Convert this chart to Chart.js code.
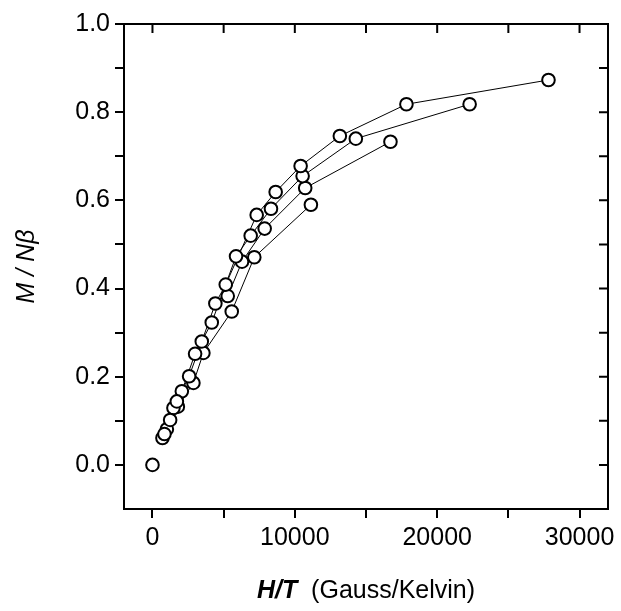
<!DOCTYPE html>
<html><head><meta charset="utf-8">
<script src="https://cdn.jsdelivr.net/npm/chart.js@4/dist/chart.umd.min.js"></script>
<style>html,body{margin:0;padding:0;background:#fff;}</style>
</head><body>
<canvas id="c" width="621" height="611"></canvas>
<script>
// Series A (highest curve)
const xA = [27819, 17840, 13163, 10407, 8654, 7321, 5147, 4418, 3464, 2574, 1711, 1241, 842];
const yA = [0.873, 0.818, 0.746, 0.678, 0.619, 0.567, 0.409, 0.366, 0.280, 0.201, 0.144, 0.102, 0.070];
// Series B
const xB = [22279, 14285, 10547, 8324, 6900, 5870, 4165, 2994, 2062, 1473, 1010, 701];
const yB = [0.818, 0.740, 0.655, 0.581, 0.520, 0.473, 0.323, 0.252, 0.167, 0.129, 0.081, 0.061];
// Series C
const xC = [16718, 10729, 7882, 6290, 5287];
const yC = [0.733, 0.628, 0.536, 0.461, 0.383];
// Series D (lowest curve)
const xD = [11129, 7153, 5568, 3576, 2875, 1781];
const yD = [0.590, 0.471, 0.348, 0.254, 0.186, 0.132];
// Origin point
const xO = [0];
const yO = [0];

const xTicks = [0, 5000, 10000, 15000, 20000, 25000, 30000];
const xTickLabels = ['0', '', '10000', '', '20000', '', '30000'];
const yTicks = [0, 0.1, 0.2, 0.3, 0.4, 0.5, 0.6, 0.7, 0.8, 0.9, 1.0];
const yTickLabels = ['0.0', '', '0.2', '', '0.4', '', '0.6', '', '0.8', '', '1.0'];

const xTitleBold = 'H/T';
const xTitleRest = '  (Gauss/Kelvin)';
const yTitle = 'M / N\u03B2';

const FONT = '"Liberation Sans", Arial, sans-serif';

function pts(xs, ys) { return xs.map((v, i) => ({x: v, y: ys[i]})); }

const series = [[xA, yA], [xB, yB], [xC, yC], [xD, yD]];
const datasets = [];
series.forEach(([xs, ys]) => {
  datasets.push({
    data: pts(xs, ys), showLine: true, borderColor: '#000', borderWidth: 1,
    pointRadius: 0, pointHoverRadius: 0, order: 2, fill: false
  });
});
series.concat([[xO, yO]]).forEach(([xs, ys]) => {
  datasets.push({
    data: pts(xs, ys), showLine: false, pointRadius: 6.3, pointHoverRadius: 6.3,
    pointBorderWidth: 2, pointBorderColor: '#000', pointBackgroundColor: '#fff',
    borderColor: '#000', backgroundColor: '#fff', order: 1
  });
});

const framePlugin = {
  id: 'frame',
  afterDraw(chart) {
    const {ctx, chartArea: a, scales: {x, y}} = chart;
    ctx.save();
    ctx.strokeStyle = '#000';
    ctx.lineWidth = 2;
    ctx.strokeRect(a.left, a.top, a.right - a.left, a.bottom - a.top);
    ctx.beginPath();
    xTicks.forEach(v => { const px = x.getPixelForValue(v); ctx.moveTo(px, a.top); ctx.lineTo(px, a.top + 9); });
    yTicks.forEach(v => { const py = y.getPixelForValue(v); ctx.moveTo(a.right, py); ctx.lineTo(a.right - 9, py); });
    ctx.stroke();
    // x title (mixed style)
    ctx.fillStyle = '#000';
    ctx.textBaseline = 'middle';
    ctx.textAlign = 'left';
    ctx.font = 'italic bold 25px ' + FONT;
    const w1 = ctx.measureText(xTitleBold).width;
    ctx.font = '25px ' + FONT;
    const w2 = ctx.measureText(xTitleRest).width;
    const cx = (a.left + a.right) / 2;
    let sx = cx - (w1 + w2) / 2;
    ctx.font = 'italic bold 25px ' + FONT;
    ctx.fillText(xTitleBold, sx, 591);
    ctx.font = '25px ' + FONT;
    ctx.fillText(xTitleRest, sx + w1, 591);
    // y title
    ctx.translate(27, (a.top + a.bottom) / 2);
    ctx.rotate(-Math.PI / 2);
    ctx.textAlign = 'center';
    ctx.font = 'italic 25px ' + FONT;
    ctx.fillText(yTitle, 0, 0);
    ctx.restore();
  }
};

new Chart(document.getElementById('c'), {
  type: 'scatter',
  data: {datasets},
  options: {
    responsive: false,
    animation: false,
    devicePixelRatio: 1,
    layout: {padding: {left: 0, top: 24, right: 13, bottom: 0}},
    plugins: {legend: {display: false}, tooltip: {enabled: false}},
    events: [],
    scales: {
      x: {
        type: 'linear', min: -2000, max: 32000,
        afterBuildTicks: s => { s.ticks = xTicks.map(v => ({value: v})); },
        afterFit: s => { s.height = 102; },
        ticks: {
          autoSkip: false, maxRotation: 0, padding: 5, color: '#000',
          font: {family: FONT, size: 25},
          callback: (v, i) => xTickLabels[i]
        },
        grid: {drawOnChartArea: false, drawTicks: true, tickLength: 9, color: '#000', lineWidth: 2},
        border: {display: true, color: '#000', width: 2}
      },
      y: {
        type: 'linear', min: -0.1, max: 1.0,
        afterBuildTicks: s => { s.ticks = yTicks.map(v => ({value: v})); },
        afterFit: s => { s.width = 124; },
        ticks: {
          autoSkip: false, padding: 5, color: '#000',
          font: {family: FONT, size: 25},
          callback: (v, i) => yTickLabels[i]
        },
        grid: {drawOnChartArea: false, drawTicks: true, tickLength: 9, color: '#000', lineWidth: 2},
        border: {display: true, color: '#000', width: 2}
      }
    }
  },
  plugins: [framePlugin]
});
</script>
</body></html>
